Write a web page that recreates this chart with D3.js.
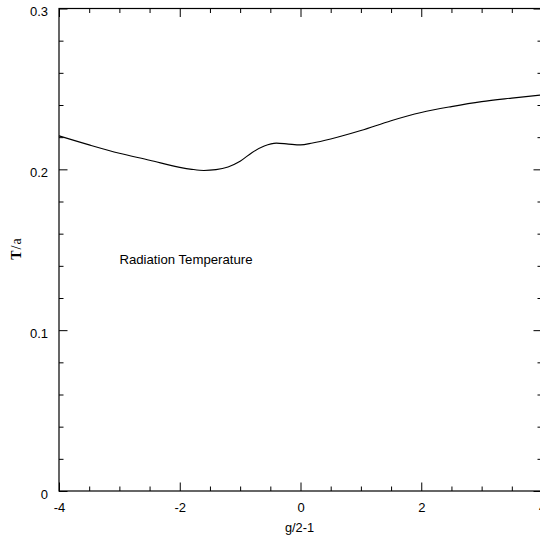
<!DOCTYPE html>
<html lang="en">
<head>
  <meta charset="UTF-8" />
  <title>Radiation Temperature</title>
  <script src="https://d3js.org/d3.v7.min.js"></script>
  <style>
    body {
      background: white;
      margin: 0;
      padding: 0;
      overflow: hidden;
      font-family: "Liberation Sans", Arial, sans-serif;
    }
  </style>
</head>
<body>
  <div id="viz"></div>
  <script>
    // curve
    const gValues = [-4, -3.5, -3, -2.5, -2, -1.8, -1.6, -1.4, -1.2, -1.0, -0.8, -0.6,
                     -0.4, -0.2, 0, 0.2, 0.5, 1, 1.5, 2, 2.5, 3, 3.5, 4];
    const tValues = [0.2208, 0.2152, 0.2100, 0.2057, 0.2012, 0.2000, 0.1993, 0.1998,
                     0.2015, 0.2050, 0.2105, 0.2145, 0.2163, 0.2157, 0.2152, 0.2164,
                     0.2189, 0.2241, 0.2302, 0.2353, 0.2390, 0.2421, 0.2443, 0.2463];
    const xMajorTicks = [-4, -2, 0, 2, 4];
    const yMajorTicks = [0, 0.1, 0.2, 0.3];

    const W = 540, H = 540;
    const margin = { left: 59, top: 8.5, right: -2, bottom: 49 };
    const w = W - margin.left - margin.right;
    const h = H - margin.top - margin.bottom;

    const svg = d3.select("#viz").append("svg")
      .attr("width", W)
      .attr("height", H);

    const g = svg.append("g")
      .attr("transform", `translate(${margin.left},${margin.top})`);

    const x = d3.scaleLinear().domain([-4, 4]).range([0, w]);
    const y = d3.scaleLinear().domain([0, 0.3]).range([h, 0]);

    const xMinor = d3.range(-4, 4.01, 0.5).filter(v => Math.abs(v % 2) > 1e-6);
    const yMinor = d3.range(0, 0.301, 0.02).filter(v => Math.abs(Math.round(v * 10) - v * 10) > 1e-6);

    // minor ticks, all four sides, inward
    g.append("g").attr("transform", `translate(0,${h})`)
      .call(d3.axisBottom(x).tickValues(xMinor).tickSize(-4.5).tickFormat(""));
    g.append("g")
      .call(d3.axisTop(x).tickValues(xMinor).tickSize(-4.5).tickFormat(""));
    g.append("g")
      .call(d3.axisLeft(y).tickValues(yMinor).tickSize(-4.5).tickFormat(""));
    g.append("g").attr("transform", `translate(${w},0)`)
      .call(d3.axisRight(y).tickValues(yMinor).tickSize(-4.5).tickFormat(""));

    // major ticks (plain hyphen for negatives, like the original)
    g.append("g").attr("transform", `translate(0,${h})`)
      .call(d3.axisBottom(x).tickValues(xMajorTicks).tickSize(-8.5).tickPadding(12)
        .tickFormat(d => String(d)));
    g.append("g")
      .call(d3.axisTop(x).tickValues(xMajorTicks).tickSize(-8.5).tickFormat(""));
    const yl = g.append("g")
      .call(d3.axisLeft(y).tickValues(yMajorTicks).tickSize(-8.5).tickPadding(11)
        .tickFormat(d => d === 0 ? "0" : d3.format(".1f")(d)));
    g.append("g").attr("transform", `translate(${w},0)`)
      .call(d3.axisRight(y).tickValues(yMajorTicks).tickSize(-8.5).tickFormat(""));

    g.selectAll(".domain").remove();
    g.selectAll(".tick line").attr("stroke", "#000").attr("stroke-width", 1);
    g.selectAll(".tick text")
      .attr("fill", "#000")
      .style("font-family", "'Liberation Sans', Arial, sans-serif")
      .style("font-size", "13px");
    yl.selectAll(".tick text").attr("dy", "0.55em");

    // frame
    g.append("rect")
      .attr("width", w).attr("height", h)
      .attr("fill", "none").attr("stroke", "#000").attr("stroke-width", 1.2);

    // curve
    const pts = gValues.map((v, i) => [v, tValues[i]]);
    g.append("path")
      .datum(pts)
      .attr("fill", "none")
      .attr("stroke", "#000")
      .attr("stroke-width", 1.1)
      .attr("d", d3.line().x(d => x(d[0])).y(d => y(d[1])).curve(d3.curveMonotoneX));

    // in-plot label
    g.append("text")
      .attr("x", x(-3))
      .attr("y", y(0.1414))
      .style("font-size", "13.2px")
      .text("Radiation Temperature");

    // axis titles
    svg.append("text")
      .attr("x", margin.left + x(0) - 1)
      .attr("y", 532)
      .attr("text-anchor", "middle")
      .style("font-size", "12.8px")
      .text("g/2-1");

    const yt = svg.append("text")
      .attr("transform", "translate(21,249) rotate(-90)")
      .attr("text-anchor", "middle")
      .style("font-family", "'Liberation Serif', serif")
      .style("font-size", "14px");
    yt.append("tspan").style("font-weight", "bold").text("T");
    yt.append("tspan").attr("dx", 1).text("/");
    yt.append("tspan").attr("dx", 1).text("a");
  </script>
</body>
</html>
